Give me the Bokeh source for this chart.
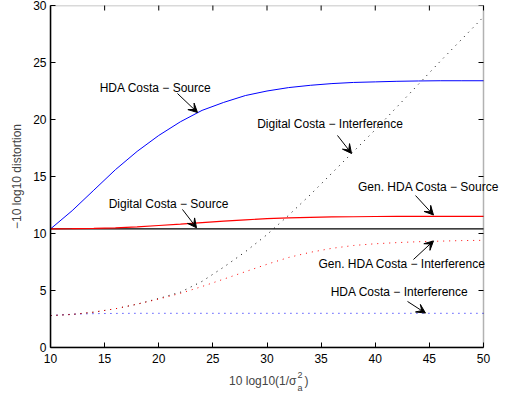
import math
from bokeh.plotting import figure
from bokeh.models import Label, Arrow, VeeHead, FixedTicker, BoxAnnotation
from bokeh.embed import file_html
from bokeh.resources import INLINE

# ---- data ----
x = [10, 12, 14, 16, 18, 20, 22, 24, 26, 28, 30, 32, 34, 36, 38, 40, 42, 44, 46, 48, 50]
hda_source = [10.4, 12.0, 13.8, 15.6, 17.2, 18.6, 19.8, 20.8, 21.5, 22.1, 22.5, 22.8, 23.0, 23.15,
              23.25, 23.3, 23.35, 23.38, 23.4, 23.4, 23.4]
digital_source = [10.4] * 21
gen_hda_source = [10.4, 10.42, 10.45, 10.5, 10.58, 10.7, 10.82, 10.95, 11.08, 11.2, 11.3, 11.37, 11.42,
                  11.45, 11.47, 11.49, 11.5, 11.5, 11.5, 11.5, 11.5]
hda_interf = [2.8, 2.92, 2.97, 2.99, 3.0, 3.0, 3.0, 3.0, 3.0, 3.0, 3.0, 3.0, 3.0, 3.0, 3.0, 3.0, 3.0,
              3.0, 3.0, 3.0, 3.0]
digital_interf = [2.8, 2.9, 3.1, 3.4, 3.8, 4.3, 4.85, 5.8, 7.05, 8.4, 9.9, 11.6, 13.4, 15.3, 17.2, 19.1,
                  21.1, 23.1, 25.1, 27.05, 29.0]
gen_hda_interf = [2.8, 2.9, 3.1, 3.4, 3.8, 4.25, 4.75, 5.35, 6.0, 6.65, 7.3, 7.9, 8.35, 8.7, 8.95, 9.1,
                  9.2, 9.28, 9.33, 9.38, 9.4]
x_ticks = [10, 15, 20, 25, 30, 35, 40, 45, 50]
y_ticks = [0, 5, 10, 15, 20, 25, 30]
X_MIN, X_MAX, Y_MIN, Y_MAX = 10, 50, 0, 30

FONT = "Liberation Sans"

# axes box is 433 px wide for 40 units; the frame runs further right so that
# annotation texts which stick out of the box are not clipped.
BOX_W = 433
FRAME_W = 465
X_END = X_MIN + (X_MAX - X_MIN) * FRAME_W / BOX_W
PX = (X_MAX - X_MIN) / BOX_W  # data units per pixel along x

p = figure(frame_width=FRAME_W, frame_height=342, x_range=(X_MIN, X_END), y_range=(Y_MIN, Y_MAX),
           output_backend="svg", toolbar_location=None,
           min_border_left=50, min_border_right=4, min_border_top=5, min_border_bottom=49)
p.xgrid.visible = False
p.ygrid.visible = False
p.outline_line_color = None
p.background_fill_color = "white"
p.border_fill_color = "white"

for ax, ticks in ((p.xaxis[0], x_ticks), (p.yaxis[0], y_ticks)):
    ax.ticker = FixedTicker(ticks=ticks)
    ax.major_tick_in = 5
    ax.major_tick_out = 0
    ax.minor_tick_in = 0
    ax.minor_tick_out = 0
    ax.axis_line_color = "black"
    ax.axis_line_width = 1.5
    ax.major_tick_line_color = "black"
    ax.major_label_text_font = FONT
    ax.major_label_text_font_size = "12px"
    ax.major_label_text_color = "black"
p.xaxis.bounds = (X_MIN, X_MAX)
p.xaxis.major_label_standoff = 6
p.yaxis.major_label_standoff = 4
p.yaxis.axis_label = "\u221210 log10 distortion"
p.yaxis.axis_label_text_font = FONT
p.yaxis.axis_label_text_font_size = "12px"
p.yaxis.axis_label_text_font_style = "normal"
p.yaxis.axis_label_standoff = 6

# box around the axes
p.add_layout(BoxAnnotation(left=X_MIN, right=X_MAX, bottom=Y_MIN, top=Y_MAX, fill_color=None,
                           line_color="black", line_width=1.5))
# inward ticks on the top (half of each dash is clipped away) and right edges
p.scatter(x_ticks, [Y_MAX] * len(x_ticks), marker="dash", angle=math.pi / 2, size=10,
          line_color="black", line_width=1)
p.segment(x0=[X_MAX] * len(y_ticks), x1=[X_MAX - 5 * PX] * len(y_ticks), y0=y_ticks, y1=y_ticks,
          line_color="black", line_width=1)

# ---- curves ----
p.line(x, hda_source, line_color="#0000ff", line_width=1)
p.line(x, digital_source, line_color="black", line_width=1.2)
p.line(x, gen_hda_source, line_color="#ff0000", line_width=1.2)
p.line(x, hda_interf, line_color="#0000ff", line_width=1, line_dash="1 5")
p.line(x, digital_interf, line_color="black", line_width=1, line_dash="1 5")
p.line(x, gen_hda_interf, line_color="#ff0000", line_width=1, line_dash="1 5")

# ---- annotations: text (canvas px, centre), arrow tail and tip (data units) ----
annotations = [
    ("HDA Costa \u2212 Source", 155, 87, 21.73, 22.28, 23.58, 20.61),
    ("Digital Costa \u2212 Interference", 329.5, 123, 36.51, 18.60, 37.81, 17.02),
    ("Gen. HDA Costa \u2212 Source", 428, 186, 43.72, 13.33, 45.38, 11.62),
    ("Digital Costa \u2212 Source", 168, 203, 22.19, 12.11, 23.49, 10.50),
    ("Gen. HDA Costa \u2212 Interference", 401.5, 263, 43.53, 7.72, 45.38, 9.35),
    ("HDA Costa \u2212 Interference", 399, 291, 42.98, 4.04, 44.64, 3.02),
]
for txt, tx, ty, ax0, ay0, ax1, ay1 in annotations:
    p.add_layout(Label(x=tx, y=ty, x_units="canvas", y_units="canvas", text=txt,
                       text_align="center", text_baseline="middle",
                       text_font=FONT, text_font_size="12px", text_color="black"))
    p.add_layout(Arrow(x_start=ax0, y_start=ay0, x_end=ax1, y_end=ay1,
                       line_color="black", line_width=1,
                       end=VeeHead(size=9, fill_color="black", line_color="black", line_width=1)))

# ---- x axis label built from pieces (sigma with sub/superscript), canvas px ----
pieces = [("10 log10(1/\u03c3", 296, 380, "right", "12px"),
          ("2", 297, 374, "left", "9px"),
          ("a", 297, 387, "left", "9px"),
          (")", 304, 380, "left", "12px")]
for txt, px_, py_, al, fs in pieces:
    p.add_layout(Label(x=px_, y=py_, x_units="canvas", y_units="canvas", text=txt,
                       text_align=al, text_baseline="middle", text_font=FONT, text_font_size=fs),
                 "below")

open("out.html", "w").write(file_html(p, INLINE))
